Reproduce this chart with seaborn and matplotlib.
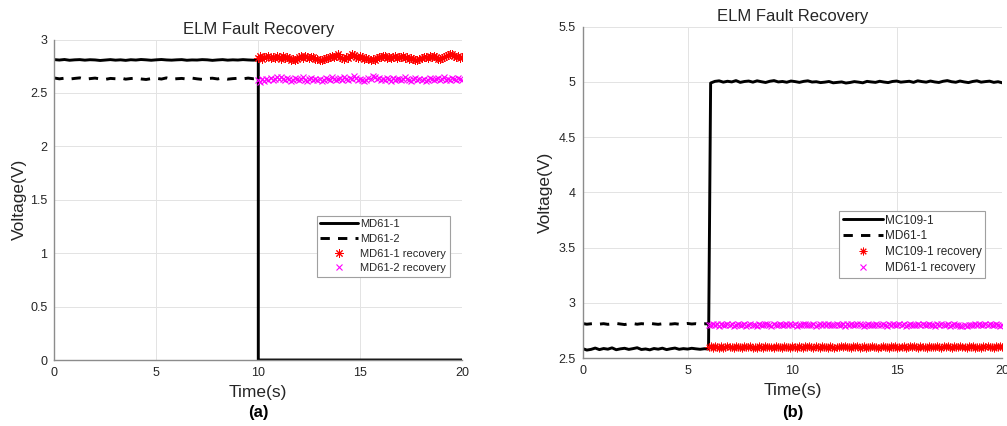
import numpy as np
import matplotlib
matplotlib.use("Agg")
import matplotlib.pyplot as plt
import seaborn as sns
from matplotlib.ticker import FuncFormatter

# ---------------- data: panel (a) ----------------
# MD61-1 and MD61-2 before the fault (0-10 s)
md61_1_pre = [2.812, 2.808, 2.813, 2.806, 2.810, 2.812, 2.807, 2.811, 2.809, 2.804,
              2.808, 2.812, 2.807, 2.810, 2.805, 2.811, 2.808, 2.813, 2.810, 2.806,
              2.810, 2.813, 2.809, 2.807, 2.810, 2.812, 2.806, 2.809, 2.808, 2.812,
              2.810, 2.805, 2.809, 2.812, 2.807, 2.810, 2.808, 2.812, 2.809, 2.807,
              2.810]
md61_1_post_t = [10.0, 20.0]
md61_1_post = [0.0, 0.0]
md61_2_pre = [2.640, 2.632, 2.638, 2.630, 2.636, 2.641, 2.628, 2.634, 2.639, 2.631,
              2.627, 2.636, 2.633, 2.640, 2.629, 2.635, 2.638, 2.631, 2.626, 2.634,
              2.637, 2.630, 2.641, 2.628, 2.633, 2.636, 2.630, 2.639, 2.632, 2.627,
              2.635, 2.638, 2.631, 2.640, 2.629, 2.634, 2.637, 2.632, 2.639, 2.633,
              2.636]
# ELM recovered signals (10-20 s)
md61_1_rec = [2.830, 2.845, 2.820, 2.840, 2.835, 2.850, 2.825, 2.840, 2.830, 2.845,
              2.835, 2.820, 2.845, 2.830, 2.840, 2.825, 2.810, 2.815, 2.805, 2.820,
              2.835, 2.845, 2.830, 2.850, 2.840, 2.825, 2.840, 2.835, 2.820, 2.815,
              2.810, 2.805, 2.820, 2.830, 2.825, 2.840, 2.850, 2.835, 2.845, 2.860,
              2.840, 2.825, 2.820, 2.835, 2.830, 2.850, 2.860, 2.855, 2.840, 2.830,
              2.845, 2.835, 2.820, 2.830, 2.815, 2.805, 2.820, 2.810, 2.825, 2.840,
              2.835, 2.850, 2.845, 2.830, 2.840, 2.825, 2.835, 2.845, 2.830, 2.840,
              2.835, 2.845, 2.830, 2.840, 2.820, 2.830, 2.815, 2.810, 2.805, 2.815,
              2.825, 2.840, 2.835, 2.830, 2.845, 2.840, 2.850, 2.835, 2.820, 2.815,
              2.830, 2.840, 2.845, 2.855, 2.860, 2.865, 2.850, 2.840, 2.845, 2.830,
              2.835]
md61_2_rec = [2.620, 2.600, 2.630, 2.615, 2.635, 2.620, 2.640, 2.625, 2.630, 2.645,
              2.630, 2.650, 2.635, 2.620, 2.640, 2.630, 2.615, 2.625, 2.640, 2.635,
              2.620, 2.630, 2.645, 2.625, 2.610, 2.630, 2.640, 2.620, 2.635, 2.625,
              2.630, 2.610, 2.625, 2.640, 2.630, 2.620, 2.645, 2.635, 2.620, 2.630,
              2.640, 2.625, 2.650, 2.635, 2.620, 2.640, 2.630, 2.655, 2.640, 2.625,
              2.635, 2.620, 2.610, 2.625, 2.640, 2.630, 2.660, 2.645, 2.630, 2.640,
              2.620, 2.635, 2.625, 2.640, 2.630, 2.615, 2.640, 2.625, 2.635, 2.630,
              2.620, 2.635, 2.645, 2.630, 2.625, 2.610, 2.630, 2.640, 2.625, 2.635,
              2.620, 2.630, 2.615, 2.625, 2.640, 2.630, 2.620, 2.635, 2.640, 2.625,
              2.630, 2.645, 2.625, 2.635, 2.620, 2.640, 2.630, 2.625, 2.640, 2.630,
              2.620]

# ---------------- data: panel (b) ----------------
mc109_1_pre = [2.585, 2.572, 2.578, 2.590, 2.576, 2.586, 2.580, 2.592, 2.575, 2.583,
               2.588, 2.578, 2.585, 2.593, 2.577, 2.582, 2.574, 2.586, 2.580, 2.589,
               2.576, 2.584, 2.590, 2.579, 2.585, 2.581, 2.588, 2.583, 2.579, 2.584,
               2.582]
mc109_1_post = [4.990, 5.005, 5.010, 4.998, 5.006, 5.000, 5.012, 4.996, 5.004, 5.008,
                4.998, 5.010, 5.002, 4.995, 5.006, 5.012, 5.000, 5.004, 4.997, 5.008,
                5.003, 4.996, 5.005, 5.010, 4.999, 5.002, 4.994, 4.998, 5.004, 4.992,
                4.996, 5.000, 4.990, 4.995, 5.003, 4.998, 4.992, 5.005, 5.000, 4.996,
                5.006, 4.999, 4.994, 5.004, 5.008, 4.998, 5.002, 5.006, 4.996, 5.010,
                5.003, 4.998, 5.008, 5.000, 4.995, 5.006, 5.012, 5.002, 4.997, 5.008,
                5.000, 4.994, 5.004, 5.010, 4.998, 5.003, 5.007, 4.996, 5.002, 4.992]
md61_1b_pre = [2.812, 2.806, 2.810, 2.814, 2.807, 2.811, 2.805, 2.809, 2.813, 2.808,
               2.803, 2.810, 2.812, 2.806, 2.811, 2.808, 2.814, 2.809, 2.805, 2.810,
               2.812, 2.807, 2.811, 2.806, 2.809, 2.813, 2.808, 2.811, 2.806, 2.810,
               2.809]
mc109_1_rec = [2.598, 2.605, 2.592, 2.610, 2.600, 2.594, 2.606, 2.589, 2.602, 2.608,
               2.596, 2.603, 2.591, 2.609, 2.599, 2.604, 2.593, 2.607, 2.597, 2.601,
               2.611, 2.595, 2.602, 2.588, 2.606, 2.599, 2.593, 2.608, 2.600, 2.596,
               2.604, 2.590, 2.609, 2.597, 2.603, 2.594, 2.612, 2.598, 2.601, 2.592,
               2.607, 2.599, 2.595, 2.610, 2.602, 2.591, 2.605, 2.598, 2.613, 2.600,
               2.594, 2.606, 2.601, 2.589, 2.608, 2.597, 2.603, 2.595, 2.610, 2.599,
               2.592, 2.604, 2.600, 2.607, 2.596, 2.611, 2.598, 2.602, 2.590, 2.605,
               2.599, 2.609, 2.594, 2.601, 2.606, 2.593, 2.603, 2.598, 2.612, 2.596,
               2.604, 2.591, 2.600, 2.607, 2.597, 2.602, 2.589, 2.606, 2.599, 2.610,
               2.595, 2.603, 2.598, 2.608, 2.592, 2.601, 2.605, 2.597, 2.611, 2.600,
               2.593, 2.606, 2.599, 2.602, 2.590, 2.607, 2.596, 2.604, 2.600, 2.609,
               2.597, 2.592, 2.605, 2.599, 2.611, 2.601, 2.594, 2.606, 2.598, 2.603,
               2.608, 2.596, 2.602, 2.593, 2.607, 2.600, 2.610, 2.595, 2.604, 2.599,
               2.591, 2.605, 2.601, 2.609, 2.597, 2.603, 2.594, 2.612, 2.600, 2.606,
               2.598]
md61_1b_rec = [2.802, 2.795, 2.808, 2.798, 2.804, 2.791, 2.806, 2.800, 2.796, 2.809,
               2.799, 2.805, 2.793, 2.803, 2.810, 2.797, 2.801, 2.807, 2.794, 2.802,
               2.806, 2.798, 2.803, 2.792, 2.808, 2.800, 2.796, 2.804, 2.811, 2.799,
               2.793, 2.805, 2.801, 2.797, 2.807, 2.795, 2.803, 2.809, 2.798, 2.804,
               2.800, 2.808, 2.794, 2.802, 2.797, 2.806, 2.812, 2.799, 2.803, 2.796,
               2.805, 2.791, 2.801, 2.807, 2.798, 2.804, 2.795, 2.810, 2.800, 2.797,
               2.803, 2.809, 2.796, 2.801, 2.806, 2.793, 2.804, 2.799, 2.808, 2.802,
               2.797, 2.805, 2.812, 2.800, 2.794, 2.803, 2.807, 2.798, 2.801, 2.795,
               2.806, 2.800, 2.797, 2.809, 2.803, 2.792, 2.805, 2.799, 2.811, 2.802,
               2.796, 2.804, 2.800, 2.807, 2.793, 2.802, 2.808, 2.797, 2.803, 2.799,
               2.805, 2.798, 2.810, 2.801, 2.795, 2.806, 2.800, 2.803, 2.792, 2.808,
               2.799, 2.804, 2.797, 2.802, 2.809, 2.794, 2.801, 2.806, 2.798, 2.803,
               2.793, 2.788, 2.796, 2.791, 2.799, 2.802, 2.795, 2.807, 2.800, 2.804,
               2.797, 2.803, 2.810, 2.799, 2.805, 2.796, 2.802, 2.808, 2.800, 2.794,
               2.801]

x_ticks = [0, 5, 10, 15, 20]
y_ticks_a = [0, 0.5, 1, 1.5, 2, 2.5, 3]
y_ticks_b = [2.5, 3, 3.5, 4, 4.5, 5, 5.5]

# ---------------- style ----------------
sns.set_style("whitegrid")
plt.rcParams['font.family'] = ['Liberation Sans', 'DejaVu Sans']
TXT = '#262626'
AX = '#8c8c8c'

fig = plt.figure(figsize=(10.07, 4.26), dpi=100)
ax_a = fig.add_axes([0.0539, 0.1549, 0.4052, 0.7523])
ax_b = fig.add_axes([0.5786, 0.1596, 0.4167, 0.7777])


def draw_line(ax, t, v, label, dashed=False):
    sns.lineplot(x=t, y=v, ax=ax, color='black', linewidth=2.1, label=label,
                 estimator=None, sort=False)
    line = ax.lines[-1]
    if dashed:
        line.set_dashes((3.2, 2.8))
    return line


def draw_marks(ax, t, v, label, color, marker, size, mew):
    sns.lineplot(x=t, y=v, ax=ax, color=color, linestyle='', marker=marker,
                 markersize=size, markeredgewidth=mew, markeredgecolor=color,
                 markerfacecolor=color, label=label, estimator=None, sort=False)


star = (8, 2, 0)

# panel (a)
t_a_pre = np.linspace(0, 10, len(md61_1_pre))
t_a_rec = np.linspace(10, 20, len(md61_1_rec))
draw_line(ax_a, np.concatenate([t_a_pre, md61_1_post_t]),
          np.concatenate([md61_1_pre, md61_1_post]), 'MD61-1')
draw_line(ax_a, np.linspace(0, 10, len(md61_2_pre)), md61_2_pre, 'MD61-2', dashed=True)
draw_marks(ax_a, t_a_rec, md61_1_rec, 'MD61-1 recovery', (1, 0, 0), star, 6.0, 0.7)
draw_marks(ax_a, np.linspace(10, 20, len(md61_2_rec)), md61_2_rec, 'MD61-2 recovery',
           (1, 0, 1), 'x', 5.0, 0.8)

# panel (b)
t_b_pre = np.linspace(0, 6, len(mc109_1_pre))
t_b_post = np.linspace(6.1, 20, len(mc109_1_post))
draw_line(ax_b, np.concatenate([t_b_pre, t_b_post]),
          np.concatenate([mc109_1_pre, mc109_1_post]), 'MC109-1')
draw_line(ax_b, np.linspace(0, 6, len(md61_1b_pre)), md61_1b_pre, 'MD61-1', dashed=True)
draw_marks(ax_b, np.linspace(6, 20, len(mc109_1_rec)), mc109_1_rec, 'MC109-1 recovery',
           (1, 0, 0), star, 5.5, 0.7)
draw_marks(ax_b, np.linspace(6, 20, len(md61_1b_rec)), md61_1b_rec, 'MD61-1 recovery',
           (1, 0, 1), 'x', 4.8, 0.8)

fmt = FuncFormatter(lambda v, _: f"{v:g}")

for ax, yt, ylim in [(ax_a, y_ticks_a, (0, 3)), (ax_b, y_ticks_b, (2.5, 5.5))]:
    ax.set_xlim(0, 20)
    ax.set_ylim(*ylim)
    ax.set_xticks(x_ticks)
    ax.set_yticks(yt)
    ax.xaxis.set_major_formatter(fmt)
    ax.yaxis.set_major_formatter(fmt)
    ax.grid(True, color='#e3e3e3', linewidth=0.7)
    ax.set_axisbelow(True)
    for side in ['top', 'right']:
        ax.spines[side].set_visible(False)
    for side in ['left', 'bottom']:
        ax.spines[side].set_visible(True)
        ax.spines[side].set_color(AX)
        ax.spines[side].set_linewidth(1.0)
    ax.tick_params(axis='both', direction='in', length=3, width=0.8, color=AX,
                   labelsize=9, labelcolor=TXT, pad=5)
    ax.set_title('ELM Fault Recovery', fontsize=12, color=TXT, pad=4)
    ax.set_xlabel('Time(s)', fontsize=12.5, color=TXT, labelpad=4.5)
    ax.set_ylabel('Voltage(V)', fontsize=12.5, color=TXT)

ax_a.yaxis.set_label_coords(-0.067, 0.5)
ax_b.yaxis.set_label_coords(-0.071, 0.5)

legend_specs = [
    (ax_a, (317 / 1007, 1 - 216 / 426), 8.0, 0.42),
    (ax_b, (839 / 1007, 1 - 211 / 426), 8.5, 0.33),
]
for ax, anchor, fs, spacing in legend_specs:
    leg = ax.legend(loc='upper left', bbox_to_anchor=anchor, bbox_transform=fig.transFigure,
                    borderaxespad=0, fontsize=fs, handlelength=3.4, handletextpad=0.2,
                    labelspacing=spacing, borderpad=0.3, frameon=True, fancybox=False,
                    framealpha=1, edgecolor='#a0a0a0')
    leg.get_frame().set_linewidth(0.8)
    for txt in leg.get_texts():
        txt.set_color(TXT)

fig.text((54.3 + 462.3) / 2 / 1007, 1 - 413 / 426, '(a)', ha='center', va='center',
         fontsize=12, fontweight='bold', color='black')
fig.text((582.7 + 1002.3) / 2 / 1007, 1 - 413 / 426, '(b)', ha='center', va='center',
         fontsize=12, fontweight='bold', color='black')

fig.savefig('out.png', dpi=100)
